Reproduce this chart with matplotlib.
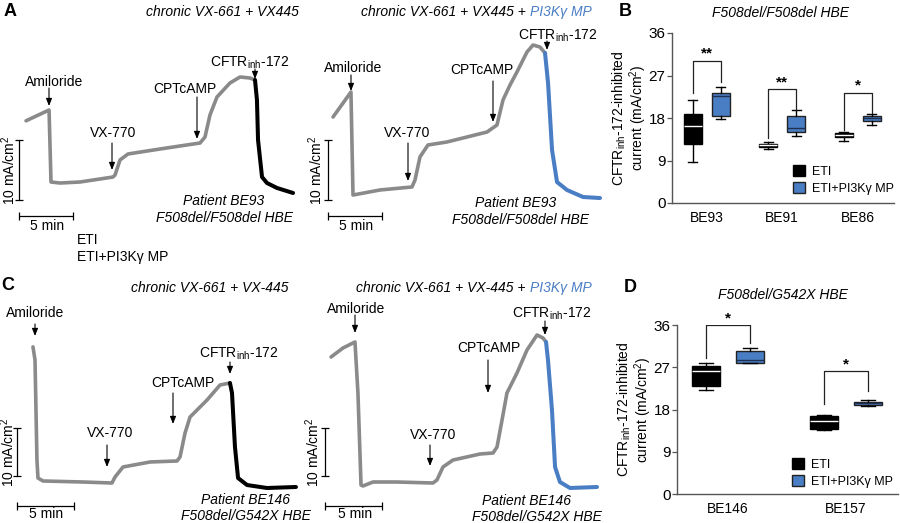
import matplotlib
matplotlib.use('Agg')
import matplotlib.pyplot as plt
from matplotlib.patches import Patch, FancyArrowPatch

plt.rcParams['font.family'] = ['Liberation Sans', 'DejaVu Sans']
plt.rcParams['mathtext.fontset'] = 'custom'
plt.rcParams['mathtext.rm'] = 'Liberation Sans'
plt.rcParams['mathtext.it'] = 'Liberation Sans:italic'
plt.rcParams['mathtext.bf'] = 'Liberation Sans:bold'

W, H = 900, 523
GRAY = '#8a8a8a'
BLUE = '#4a7ec4'

# ---------------- Data: Ussing chamber traces (time in min, current in mA/cm2)
# Panel A, ETI
a_eti_time = [0.56, 2.69, 2.87, 3.70, 5.56, 8.61, 8.80, 9.26, 10.0, 12.96, 16.67,
              17.13, 17.59, 18.24, 19.44, 20.37, 21.30, 21.76]
a_eti_curr = [13.2, 15.0, 3.0, 2.83, 3.0, 3.83, 4.17, 6.67, 7.67, 8.5, 9.5,
              10.5, 14.17, 17.17, 19.5, 20.5, 20.33, 20.0]
a_eti_inh_time = [21.76, 21.94, 22.04, 22.41, 22.87, 23.80, 25.28]
a_eti_inh_curr = [20.0, 16.67, 10.0, 3.83, 2.83, 2.0, 1.17]
# Panel A, ETI + PI3Kγ MP
a_mp_time = [0.28, 1.94, 2.13, 4.63, 7.59, 7.87, 8.33, 9.07, 10.83, 14.54, 15.46,
             16.02, 16.67, 17.31, 18.24, 18.80, 19.44, 19.91]
a_mp_curr = [13.83, 18.0, 0.83, 1.67, 2.17, 3.33, 7.17, 9.17, 9.67, 11.33, 12.5,
             16.67, 19.17, 21.33, 24.67, 25.83, 25.5, 24.5]
a_mp_inh_time = [19.91, 20.19, 20.56, 21.02, 21.94, 23.43, 25.0]
a_mp_inh_curr = [24.5, 19.5, 8.33, 3.0, 1.67, 0.5, 0.33]
# Panel C, ETI
c_eti_time = [1.40, 1.58, 1.75, 1.84, 2.28, 5.79, 8.33, 8.60, 9.30, 11.67, 14.04,
              14.30, 14.74, 15.18, 16.67, 17.81, 18.68]
c_eti_curr = [26.9, 24.2, 3.33, -0.42, -1.04, -1.25, -1.46, -0.21, 1.88, 2.92, 3.13,
              3.96, 8.96, 12.29, 15.83, 18.96, 19.38]
c_eti_inh_time = [18.68, 18.86, 19.12, 19.39, 20.18, 21.93, 24.47]
c_eti_inh_curr = [19.38, 17.29, 6.04, -0.42, -1.88, -2.5, -2.29]
# Panel C, ETI + PI3Kγ MP
c_mp_time = [0.53, 1.58, 2.63, 2.89, 3.16, 3.33, 4.21, 6.32, 9.47, 9.82, 10.35, 11.23,
             13.60, 14.74, 15.09, 15.53, 15.96, 16.84, 17.72, 18.60, 19.12, 19.39]
c_mp_curr = [24.79, 26.67, 27.92, 17.29, -1.88, -2.08, -1.25, -1.25, -1.46, -0.83, 1.88, 3.33,
             4.58, 4.79, 6.04, 11.67, 17.29, 21.46, 26.25, 29.38, 28.75, 27.92]
c_mp_inh_time = [19.39, 19.56, 19.91, 20.18, 20.61, 21.49, 23.86]
c_mp_inh_curr = [27.92, 24.17, 13.75, 1.88, -1.25, -2.5, -2.29]

# ---------------- Data: box plots (CFTRinh-172-inhibited current, mA/cm2)
b_categories = ['BE93', 'BE91', 'BE86']
b_eti_whislo = [8.7, 11.4, 13.1]
b_eti_q1 = [12.4, 11.9, 14.0]
b_eti_med = [16.3, 12.3, 14.5]
b_eti_q3 = [18.8, 12.6, 14.9]
b_eti_whishi = [21.8, 13.0, 15.1]
b_mp_whislo = [17.7, 14.2, 16.5]
b_mp_q1 = [18.5, 15.0, 17.4]
b_mp_med = [22.7, 15.8, 18.0]
b_mp_q3 = [23.4, 18.5, 18.4]
b_mp_whishi = [24.6, 19.7, 18.8]
b_sig = ['**', '**', '*']
b_bracket_top = [30.1, 24.1, 23.4]
b_bracket_left = [23.4, 13.8, 15.5]
b_bracket_right = [25.7, 19.7, 19.1]

d_categories = ['BE146', 'BE157']
d_eti_whislo = [22.2, 13.6]
d_eti_q1 = [23.1, 13.8]
d_eti_med = [26.2, 15.6]
d_eti_q3 = [27.3, 16.7]
d_eti_whishi = [27.8, 16.9]
d_mp_whislo = [27.8, 18.7]
d_mp_q1 = [27.8, 18.9]
d_mp_med = [28.5, 19.3]
d_mp_q3 = [30.5, 19.7]
d_mp_whishi = [31.2, 20.0]
d_sig = ['*', '*']
d_bracket_top = [36.0, 26.2]
d_bracket_left = [28.9, 19.2]
d_bracket_right = [32.1, 22.0]

y_ticks = [0, 9, 18, 27, 36]
legend_labels = ['ETI', 'ETI+PI3Kγ MP']

# ---------------- Figure
fig = plt.figure(figsize=(W / 100, H / 100), dpi=100)


def fx(x):
    return x / W


def fy(y):
    return 1 - y / H


def ptext(x, y, s, **kw):
    kw.setdefault('fontsize', 10)
    kw.setdefault('ha', 'center')
    kw.setdefault('va', 'center')
    return fig.text(fx(x), fy(y), s, **kw)


def parrow(x, y0, y1):
    fig.add_artist(FancyArrowPatch((fx(x), fy(y0)), (fx(x), fy(y1)),
                                   transform=fig.transFigure,
                                   arrowstyle='-|>,head_length=0.55,head_width=0.22',
                                   mutation_scale=8, lw=0.8, color='black',
                                   shrinkA=0, shrinkB=0))


def trace_axes(xa, xb, ya, yb, x0, y0, ppm, ppa):
    ax = fig.add_axes([fx(xa), fy(yb), (xb - xa) / W, (yb - ya) / H])
    ax.set_xlim((xa - x0) / ppm, (xb - x0) / ppm)
    ax.set_ylim((y0 - yb) / ppa, (y0 - ya) / ppa)
    ax.axis('off')
    return ax


def scale_bars(ax, t_bar, i_hbar):
    kw = dict(color='black', lw=0.9, solid_capstyle='butt', clip_on=False)
    ax.plot([t_bar, t_bar], [0, 10], **kw)
    ax.plot([t_bar, t_bar], [0, 10], ls='none', marker='_', ms=6, mew=0.9,
            color='black', clip_on=False)
    ax.plot([t_bar, t_bar + 5], [i_hbar, i_hbar], **kw)
    ax.plot([t_bar, t_bar + 5], [i_hbar, i_hbar], ls='none', marker='|', ms=6,
            mew=0.9, color='black', clip_on=False)


def draw_trace(ax, t, i, t2, i2, c2):
    ax.plot(t, i, color=GRAY, lw=2.6, solid_joinstyle='round',
            solid_capstyle='round', clip_on=False)
    ax.plot(t2, i2, color=c2, lw=2.9, solid_joinstyle='round',
            solid_capstyle='round', clip_on=False)


# Panel A traces
ax1 = trace_axes(0, 310, 30, 240, 20, 200, 10.8, 6.0)
draw_trace(ax1, a_eti_time, a_eti_curr, a_eti_inh_time, a_eti_inh_curr, 'black')
scale_bars(ax1, -0.05, -2.6)
ax2 = trace_axes(315, 620, 30, 240, 330, 200, 10.8, 6.0)
draw_trace(ax2, a_mp_time, a_mp_curr, a_mp_inh_time, a_mp_inh_curr, BLUE)
scale_bars(ax2, -0.19, -2.6)
# Panel C traces
ax3 = trace_axes(0, 310, 290, 523, 17, 476, 11.4, 4.8)
draw_trace(ax3, c_eti_time, c_eti_curr, c_eti_inh_time, c_eti_inh_curr, 'black')
scale_bars(ax3, 0.0, -6.25)
ax4 = trace_axes(315, 620, 290, 523, 325, 476, 11.4, 4.8)
draw_trace(ax4, c_mp_time, c_mp_curr, c_mp_inh_time, c_mp_inh_curr, BLUE)
scale_bars(ax4, 0.0, -6.25)

# scale labels
for (xv, yv, xh, yh) in [(9, 170, 47, 226), (316, 170, 356, 226),
                         (8, 452, 46, 514), (313, 452, 355, 514)]:
    ptext(xv, yv, '10 mA/cm$^2$', rotation=90)
    ptext(xh, yh, '5 min')

CFTR = 'CFTR$_{\\mathrm{inh}}$-172'
# annotations A left
ptext(54, 82, 'Amiloride'); parrow(49, 88, 106)
ptext(113, 133, 'VX-770'); parrow(112, 143, 170)
ptext(185, 89, 'CPTcAMP'); parrow(197, 97, 139)
ptext(250, 63, CFTR); parrow(255, 69, 79)
# A right
ptext(353, 68, 'Amiloride'); parrow(351, 75, 91)
ptext(407, 133, 'VX-770'); parrow(408, 143, 181)
ptext(482, 70, 'CPTcAMP'); parrow(493, 81, 122)
ptext(558, 36, CFTR); parrow(547, 41, 50)
# C left
ptext(35, 313, 'Amiloride'); parrow(35, 324, 336)
ptext(110, 433, 'VX-770'); parrow(107, 445, 467)
ptext(183, 383, 'CPTcAMP'); parrow(173, 393, 424)
ptext(239, 354, CFTR); parrow(230, 362, 374)
# C right
ptext(356, 309, 'Amiloride'); parrow(355, 315, 333)
ptext(433, 435, 'VX-770'); parrow(430, 445, 466)
ptext(489, 348, 'CPTcAMP'); parrow(488, 360, 393)
ptext(552, 314, CFTR); parrow(545, 321, 335)

# patient labels
for (x, y, s) in [(224, 201, 'Patient BE93'), (224, 218, 'F508del/F508del HBE'),
                  (516, 203, 'Patient BE93'), (520, 220, 'F508del/F508del HBE'),
                  (246, 500, 'Patient BE146'), (246, 516, 'F508del/G542X HBE'),
                  (527, 501, 'Patient BE146'), (537, 517, 'F508del/G542X HBE')]:
    ptext(x, y, s, style='italic')

# condition titles
ptext(222, 12, 'chronic VX-661 + VX445', style='italic')
ptext(526, 12, 'chronic VX-661 + VX445 +', style='italic', ha='right')
ptext(530, 12, 'PI3Kγ MP', style='italic', ha='left', color=BLUE)
ptext(210, 288, 'chronic VX-661 + VX-445', style='italic')
ptext(525, 288, 'chronic VX-661 + VX-445 +', style='italic', ha='right')
ptext(530, 288, 'PI3Kγ MP', style='italic', ha='left', color=BLUE)

# stray legend text under A
ptext(77, 240, legend_labels[0], ha='left')
ptext(77, 257, legend_labels[1], ha='left')

# panel letters
for (x, y, s) in [(10, 12, 'A'), (625, 12, 'B'), (8, 286, 'C'), (630, 288, 'D')]:
    ptext(x, y, s, fontsize=13, fontweight='bold')


# ---------------- Box plot panels
def box_panel(xa, xb, ya, yb, xmin, xmax, cats, eti, mp, sig, btop, bleft, bright,
              title, tx, ty, ylx, leg_xy):
    ax = fig.add_axes([fx(xa), fy(yb), (xb - xa) / W, (yb - ya) / H])
    n = len(cats)
    off, wid = 0.185, 0.24

    def stats(arrs):
        lo, q1, med, q3, hi = arrs
        return [dict(whislo=lo[k], q1=q1[k], med=med[k], q3=q3[k], whishi=hi[k],
                     fliers=[]) for k in range(n)]

    pos_e = [k - off for k in range(n)]
    pos_m = [k + off for k in range(n)]
    ax.bxp(stats(eti), positions=pos_e, widths=wid, patch_artist=True,
           showfliers=False,
           boxprops=dict(facecolor='black', edgecolor='black', lw=1),
           medianprops=dict(color='white', lw=1),
           whiskerprops=dict(color='black', lw=1),
           capprops=dict(color='black', lw=1))
    ax.bxp(stats(mp), positions=pos_m, widths=wid, patch_artist=True,
           showfliers=False,
           boxprops=dict(facecolor=BLUE, edgecolor='#222222', lw=1),
           medianprops=dict(color='#1f2f4f', lw=1),
           whiskerprops=dict(color='black', lw=1),
           capprops=dict(color='black', lw=1))
    for k in range(n):
        ax.plot([pos_e[k], pos_e[k], pos_m[k], pos_m[k]],
                [bleft[k], btop[k], btop[k], bright[k]], color='#222222', lw=0.9)
        ax.annotate(sig[k], xy=(k, btop[k]), xytext=(0, 0), textcoords='offset points',
                    ha='center', va='bottom', fontsize=11, fontweight='bold')
    ax.set_xlim(xmin, xmax)
    ax.set_ylim(0, 36)
    ax.set_yticks(y_ticks)
    ax.set_xticks(range(n))
    ax.set_xticklabels(cats, fontsize=10)
    ax.tick_params(axis='x', length=0, pad=6)
    ax.tick_params(axis='y', length=3.6, width=0.9, pad=1, labelsize=11,
                   color='#555555')
    for s in ['top', 'right']:
        ax.spines[s].set_visible(False)
    for s in ['left', 'bottom']:
        ax.spines[s].set_color('#555555')
        ax.spines[s].set_linewidth(1)
    ax.patch.set_alpha(0)
    ptext(ylx, (ya + yb) / 2,
          'CFTR$_{\\mathrm{inh}}$-172-inhibited\ncurrent (mA/cm$^2$)',
          rotation=90, linespacing=0.95)
    ptext(tx, ty, title, style='italic')
    handles = [Patch(facecolor='black', edgecolor='black'),
               Patch(facecolor=BLUE, edgecolor='#222222')]
    ax.legend(handles, legend_labels, loc='upper left',
              bbox_to_anchor=(fx(leg_xy[0]), fy(leg_xy[1])),
              bbox_transform=fig.transFigure, frameon=False, fontsize=9,
              handlelength=0.95, handleheight=0.95, handletextpad=0.55,
              labelspacing=0.35, borderpad=0, borderaxespad=0)
    return ax


box_panel(672, 894, 33, 203, -0.46, 2.48, b_categories,
          (b_eti_whislo, b_eti_q1, b_eti_med, b_eti_q3, b_eti_whishi),
          (b_mp_whislo, b_mp_q1, b_mp_med, b_mp_q3, b_mp_whishi),
          b_sig, b_bracket_top, b_bracket_left, b_bracket_right,
          'F508del/F508del HBE', 780, 13, 629.5, (793, 165))
box_panel(677, 898, 325, 494, -0.43, 1.44, d_categories,
          (d_eti_whislo, d_eti_q1, d_eti_med, d_eti_q3, d_eti_whishi),
          (d_mp_whislo, d_mp_q1, d_mp_med, d_mp_q3, d_mp_whishi),
          d_sig, d_bracket_top, d_bracket_left, d_bracket_right,
          'F508del/G542X HBE', 783, 295, 635, (792, 458))

fig.savefig('out.png', dpi=100)
